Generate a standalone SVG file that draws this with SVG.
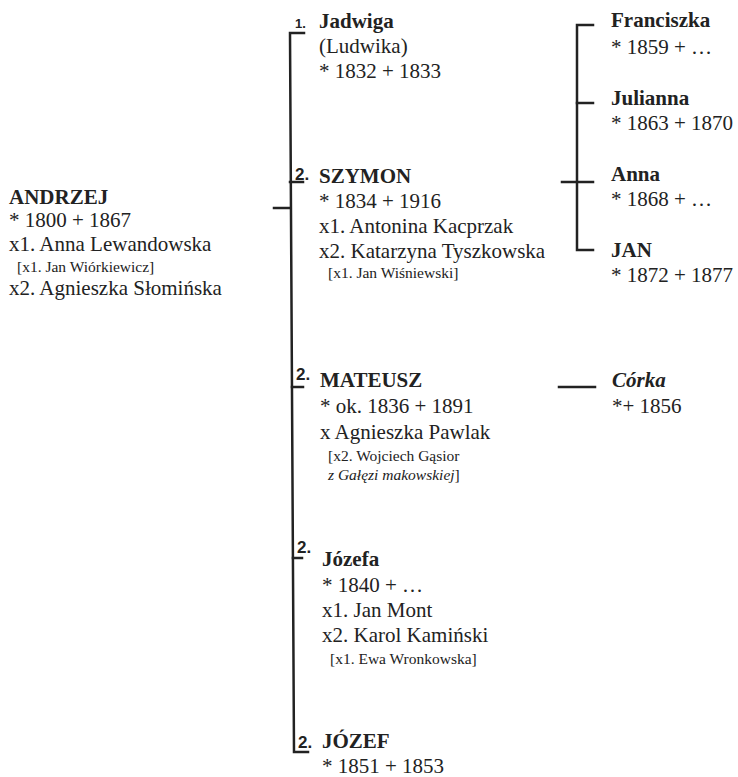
<svg xmlns="http://www.w3.org/2000/svg" width="738" height="777" viewBox="0 0 738 777">
<style>
text{font-family:"Liberation Serif","Times New Roman",serif;fill:#222;font-size:21px}
.b{font-weight:bold}
.s{font-size:15.5px}
.i{font-style:italic}
.n{font-family:"Liberation Sans",Arial,sans-serif;font-weight:bold;font-size:17px}
.n1{font-family:"Liberation Sans",Arial,sans-serif;font-weight:bold;font-size:13px}
.c{fill:none;stroke:#222;stroke-width:2.5;stroke-linecap:square}
</style>
<rect width="738" height="777" fill="#fff"/>
<g id="connectors">
<path class="c" d="M274 208H290"/>
<path class="c" d="M304 33H290L294 752H308"/>
<path class="c" d="M290 182H303"/>
<path class="c" d="M292 387H303"/>
<path class="c" d="M293 558H302"/>
<path class="c" d="M562 182H593"/>
<path class="c" d="M593 25H577V250H593"/>
<path class="c" d="M577 103H593"/>
<path class="c" d="M559 387H595"/>
</g>
<g id="andrzej">
<text x="9" y="204" class="b">ANDRZEJ</text>
<text x="9" y="227">* 1800 + 1867</text>
<text x="9" y="251">x1. Anna Lewandowska</text>
<text x="17" y="272" class="s">[x1. Jan Wiórkiewicz]</text>
<text x="9" y="295">x2. Agnieszka Słomińska</text>
</g>
<g id="jadwiga">
<text x="295" y="28" class="n1">1.</text>
<text x="319" y="28" class="b">Jadwiga</text>
<text x="319" y="53">(Ludwika)</text>
<text x="319" y="78">* 1832 + 1833</text>
</g>
<g id="szymon">
<text x="295" y="180" class="n">2.</text>
<text x="319" y="183" class="b">SZYMON</text>
<text x="319" y="208">* 1834 + 1916</text>
<text x="319" y="233">x1. Antonina Kacprzak</text>
<text x="319" y="258">x2. Katarzyna Tyszkowska</text>
<text x="328" y="278" class="s">[x1. Jan Wiśniewski]</text>
</g>
<g id="mateusz">
<text x="296" y="380" class="n">2.</text>
<text x="320" y="387" class="b">MATEUSZ</text>
<text x="320" y="413">* ok. 1836 + 1891</text>
<text x="320" y="439">x Agnieszka Pawlak</text>
<text x="328" y="461" class="s">[x2. Wojciech Gąsior</text>
<text x="328" y="480" class="s"><tspan class="i">z Gałęzi makowskiej</tspan>]</text>
</g>
<g id="jozefa">
<text x="297" y="553" class="n">2.</text>
<text x="322" y="566" class="b">Józefa</text>
<text x="322" y="592">* 1840 + …</text>
<text x="322" y="617">x1. Jan Mont</text>
<text x="322" y="642">x2. Karol Kamiński</text>
<text x="330" y="664" class="s">[x1. Ewa Wronkowska]</text>
</g>
<g id="jozef">
<text x="298" y="748" class="n">2.</text>
<text x="322" y="748" class="b">JÓZEF</text>
<text x="322" y="773">* 1851 + 1853</text>
</g>
<g id="franciszka">
<text x="611" y="27" class="b">Franciszka</text>
<text x="611" y="54">* 1859 + …</text>
</g>
<g id="julianna">
<text x="611" y="105" class="b">Julianna</text>
<text x="611" y="130">* 1863 + 1870</text>
</g>
<g id="anna">
<text x="611" y="181" class="b">Anna</text>
<text x="611" y="206">* 1868 + …</text>
</g>
<g id="jan">
<text x="611" y="257" class="b">JAN</text>
<text x="611" y="282">* 1872 + 1877</text>
</g>
<g id="corka">
<text x="612" y="387" class="b i">Córka</text>
<text x="612" y="413">*+ 1856</text>
</g>
</svg>
